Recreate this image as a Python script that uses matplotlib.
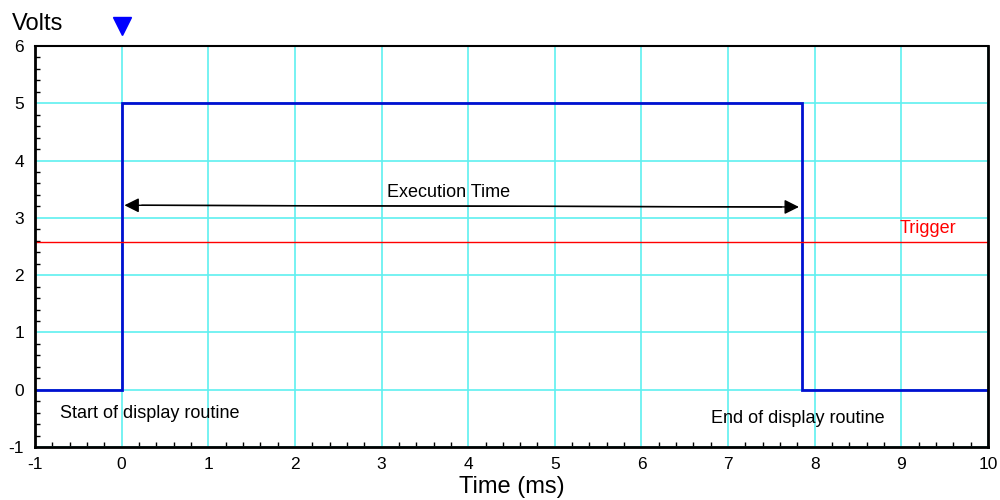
import matplotlib
matplotlib.use('Agg')
import matplotlib.pyplot as plt
from matplotlib.ticker import MultipleLocator

plt.rcParams['font.family'] = ['Liberation Sans', 'DejaVu Sans']
plt.rcParams['axes.unicode_minus'] = False

# pulse waveform (time in ms, volts)
pulse_t = [-1.0, 0.0, 0.0, 7.85, 7.85, 10.0]
pulse_v = [0.0, 0.0, 5.0, 5.0, 0.0, 0.0]

trigger_level = 2.58
trigger_marker_t = 0.0

# execution time arrow (start, end) and its y positions
arrow_t = [0.0, 7.85]
arrow_v = [3.22, 3.19]

x_ticks = list(range(-1, 11))
y_ticks = list(range(-1, 7))

fig = plt.figure(figsize=(10, 5), dpi=100)
ax = fig.add_axes([0.035, 0.106, 0.953, 0.802])

ax.set_xlim(-1, 10)
ax.set_ylim(-1, 6)
ax.set_xticks(x_ticks)
ax.set_yticks(y_ticks)
ax.xaxis.set_minor_locator(MultipleLocator(0.2))
ax.yaxis.set_minor_locator(MultipleLocator(0.2))
ax.tick_params(which='both', direction='in', top=False, right=False, labelsize=12.5, colors='black')
ax.tick_params(axis='x', which='major', length=0, pad=7)
ax.tick_params(axis='y', which='major', length=0, pad=8)
ax.tick_params(which='minor', length=3.5, width=1)

ax.grid(True, which='major', color='#5ff0f0', linewidth=1.2)
ax.set_axisbelow(True)
for s in ax.spines.values():
    s.set_linewidth(2)
ax.spines['top'].set_linewidth(1.5)

# signal
ax.plot(pulse_t, pulse_v, color='#0010d0', linewidth=2, solid_joinstyle='miter')

# trigger line
ax.axhline(trigger_level, color='red', linewidth=1)
ax.text(8.98, trigger_level + 0.08, 'Trigger', color='red', fontsize=13, ha='left', va='bottom')

# trigger position marker above the plot
ax.plot([trigger_marker_t], [6.35], marker='v', color='blue', markersize=13, clip_on=False)

# execution time arrow
ax.annotate('', xy=(arrow_t[0], arrow_v[0]), xytext=(arrow_t[1] - 0.2, arrow_v[1]),
            arrowprops=dict(arrowstyle='-|>', color='black', lw=1, mutation_scale=22))
ax.annotate('', xy=(arrow_t[1], arrow_v[1]), xytext=(arrow_t[0] + 0.2, arrow_v[0]),
            arrowprops=dict(arrowstyle='-|>', color='black', lw=1, mutation_scale=22))
ax.text(3.77, 3.45, 'Execution Time', fontsize=13, ha='center', va='center')

ax.text(-0.71, -0.41, 'Start of display routine', fontsize=13, ha='left', va='center')
ax.text(6.80, -0.50, 'End of display routine', fontsize=13, ha='left', va='center')

fig.text(0.012, 0.952, 'Volts', fontsize=17, ha='left', va='center')
ax.set_xlabel('Time (ms)', fontsize=17, labelpad=3)

fig.savefig('out.png', dpi=100)
